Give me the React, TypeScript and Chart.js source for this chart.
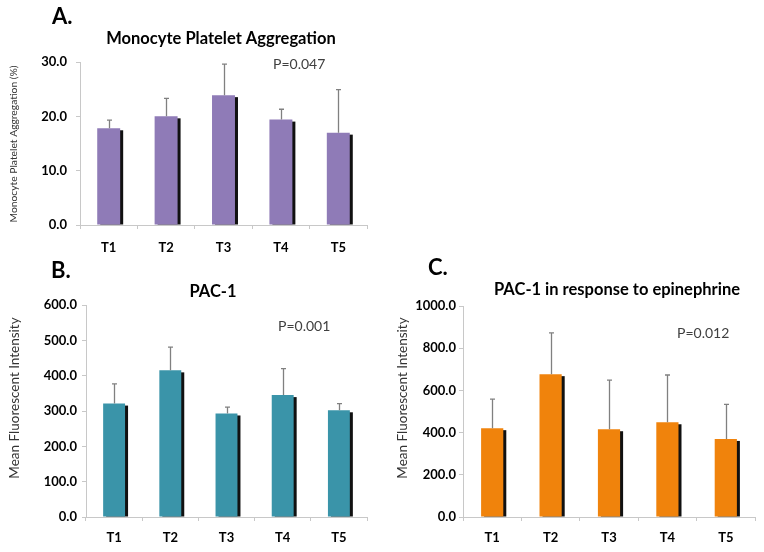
import React, { useEffect, useRef } from "react";
import { Chart, registerables } from "chart.js";

Chart.register(...registerables);

// ---------- data ----------
const categories = ["T1", "T2", "T3", "T4", "T5"];

const mpaMeans = [17.8, 20.0, 23.9, 19.4, 17.0];
const mpaErrors = [1.5, 3.3, 5.7, 1.9, 7.9];

const pac1Means = [321, 415, 293, 345, 302];
const pac1Errors = [56, 66, 18, 75, 19];

const epiMeans = [421, 677, 416, 449, 370];
const epiErrors = [138, 196, 233, 224, 164];

const FONT = "Lato, 'Open Sans', 'Liberation Sans', sans-serif";

type PanelCfg = {
  letter: string;
  title: string;
  yLabel: string;
  pText: string;
  means: number[];
  errors: number[];
  color: string;
  yMax: number;
  yStep: number;
  left: number;
  top: number;
  width: number;
  height: number;
  padTop: number;
  padRight: number;
  yWidth: number;
  xHeight: number;
  yTickPad: number;
  xTickPad: number;
  letterPos: [number, number];
  titlePos: [number, number];
  pPos: [number, number];
  yLabelPos: [number, number];
  yLabelSize: number;
  barPct: number;
};

const panels: PanelCfg[] = [
  {
    letter: "A.",
    title: "Monocyte Platelet Aggregation",
    yLabel: "Monocyte Platelet Aggregation (%)",
    pText: "P=0.047",
    means: mpaMeans,
    errors: mpaErrors,
    color: "#8f7bb7",
    yMax: 30,
    yStep: 10,
    left: 0,
    top: 0,
    width: 380,
    height: 262,
    padTop: 62,
    padRight: 13,
    yWidth: 80,
    xHeight: 37,
    yTickPad: 9,
    xTickPad: 11,
    letterPos: [52, 17],
    titlePos: [221, 39],
    pPos: [273, 64],
    yLabelPos: [14, 144],
    yLabelSize: 10.3,
    barPct: 0.4,
  },
  {
    letter: "B.",
    title: "PAC-1",
    yLabel: "Mean Fluorescent Intensity",
    pText: "P=0.001",
    means: pac1Means,
    errors: pac1Errors,
    color: "#3a94a9",
    yMax: 600,
    yStep: 100,
    left: 0,
    top: 250,
    width: 380,
    height: 302,
    padTop: 55,
    padRight: 13,
    yWidth: 86,
    xHeight: 35,
    yTickPad: 5,
    xTickPad: 9,
    letterPos: [51, 21],
    titlePos: [213, 42],
    pPos: [278, 76],
    yLabelPos: [15, 148],
    yLabelSize: 13.5,
    barPct: 0.39,
  },
  {
    letter: "C.",
    title: "PAC-1 in response to epinephrine",
    yLabel: "Mean Fluorescent Intensity",
    pText: "P=0.012",
    means: epiMeans,
    errors: epiErrors,
    color: "#f0830c",
    yMax: 1000,
    yStep: 200,
    left: 380,
    top: 250,
    width: 384,
    height: 302,
    padTop: 56,
    padRight: 9,
    yWidth: 83,
    xHeight: 35,
    yTickPad: 3,
    xTickPad: 9,
    letterPos: [48, 18],
    titlePos: [237, 40],
    pPos: [297, 83],
    yLabelPos: [23, 148],
    yLabelSize: 13.5,
    barPct: 0.38,
  },
];

function makePlugins(cfg: PanelCfg) {
  const shadow = {
    id: "barShadow",
    beforeDatasetsDraw(chart: any) {
      const meta = chart.getDatasetMeta(0);
      const ctx = chart.ctx;
      ctx.save();
      ctx.fillStyle = "#111";
      meta.data.forEach((bar: any) => {
        const p = bar.getProps(["x", "y", "base", "width"], true);
        ctx.fillRect(p.x - p.width / 2 + 3, p.y + 2, p.width, p.base - p.y - 2);
      });
      ctx.restore();
    },
  };
  const errorBars = {
    id: "errorBars",
    afterDatasetsDraw(chart: any) {
      const meta = chart.getDatasetMeta(0);
      const yScale = chart.scales.y;
      const ctx = chart.ctx;
      ctx.save();
      ctx.strokeStyle = "#808080";
      ctx.lineWidth = 1.3;
      meta.data.forEach((bar: any, i: number) => {
        const v = cfg.means[i] + cfg.errors[i];
        const top = yScale.getPixelForValue(v);
        const x = Math.round(bar.x) + 0.5;
        ctx.beginPath();
        ctx.moveTo(x, bar.y);
        ctx.lineTo(x, top);
        ctx.moveTo(x - 2.5, top);
        ctx.lineTo(x + 2.5, top);
        ctx.stroke();
      });
      ctx.restore();
    },
  };
  const texts = {
    id: "panelTexts",
    afterDraw(chart: any) {
      const ctx = chart.ctx;
      ctx.save();
      ctx.fillStyle = "#000";
      ctx.textBaseline = "middle";
      ctx.textAlign = "left";
      ctx.font = `bold 22px ${FONT}`;
      ctx.fillText(cfg.letter, cfg.letterPos[0], cfg.letterPos[1]);
      ctx.textAlign = "center";
      ctx.font = `bold 16.5px ${FONT}`;
      ctx.fillText(cfg.title, cfg.titlePos[0], cfg.titlePos[1]);
      ctx.textAlign = "left";
      ctx.fillStyle = "#404040";
      ctx.font = `14px ${FONT}`;
      ctx.fillText(cfg.pText, cfg.pPos[0], cfg.pPos[1]);
      ctx.translate(cfg.yLabelPos[0], cfg.yLabelPos[1]);
      ctx.rotate(-Math.PI / 2);
      ctx.textAlign = "center";
      ctx.fillStyle = "#333";
      ctx.font = `${cfg.yLabelSize}px ${FONT}`;
      ctx.fillText(cfg.yLabel, 0, 0);
      ctx.restore();
    },
  };
  return [shadow, errorBars, texts];
}

function Panel({ cfg }: { cfg: PanelCfg }) {
  const ref = useRef<HTMLCanvasElement | null>(null);
  useEffect(() => {
    if (!ref.current) return;
    const chart = new Chart(ref.current, {
      type: "bar",
      data: {
        labels: categories,
        datasets: [
          {
            data: cfg.means,
            backgroundColor: cfg.color,
            borderWidth: 0,
            categoryPercentage: 1,
            barPercentage: cfg.barPct,
          },
        ],
      },
      plugins: makePlugins(cfg) as any,
      options: {
        responsive: false,
        animation: false,
        devicePixelRatio: 1,
        layout: {
          padding: { left: 0, right: cfg.padRight, top: cfg.padTop, bottom: 0 },
        },
        plugins: {
          legend: { display: false },
          tooltip: { enabled: false },
          title: { display: false },
        },
        scales: {
          x: {
            afterFit: (s: any) => {
              s.height = cfg.xHeight;
            },
            grid: {
              display: true,
              drawOnChartArea: false,
              drawTicks: true,
              tickLength: 4,
              color: "#c8c8c8",
              offset: true,
            },
            border: { display: true, color: "#c8c8c8" },
            ticks: {
              color: "#000",
              padding: cfg.xTickPad,
              font: { family: FONT, size: 13, weight: "bold" },
            },
          },
          y: {
            min: 0,
            max: cfg.yMax,
            afterFit: (s: any) => {
              s.width = cfg.yWidth;
            },
            grid: {
              display: true,
              drawOnChartArea: false,
              drawTicks: true,
              tickLength: 4,
              color: "#c8c8c8",
            },
            border: { display: true, color: "#c8c8c8" },
            ticks: {
              stepSize: cfg.yStep,
              color: "#000",
              padding: cfg.yTickPad,
              font: { family: FONT, size: 13, weight: "bold" },
              callback: (v: any) => Number(v).toFixed(1),
            },
          },
        },
      } as any,
    });
    return () => chart.destroy();
  }, [cfg]);
  return (
    <canvas
      ref={ref}
      width={cfg.width}
      height={cfg.height}
      style={{
        position: "absolute",
        left: cfg.left,
        top: cfg.top,
        width: cfg.width,
        height: cfg.height,
      }}
    />
  );
}

export default function App() {
  useEffect(() => {
    document.body.style.margin = "0";
  }, []);
  return (
    <div
      style={{
        position: "fixed",
        left: 0,
        top: 0,
        width: 764,
        height: 552,
        background: "#fff",
        overflow: "hidden",
      }}
    >
      {panels.map((p) => (
        <Panel key={p.letter} cfg={p} />
      ))}
    </div>
  );
}
